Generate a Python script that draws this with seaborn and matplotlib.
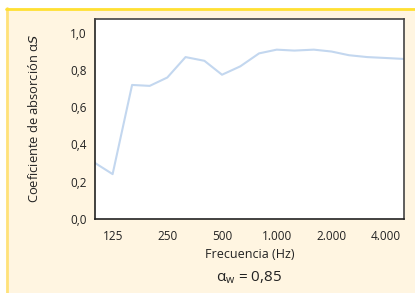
import matplotlib
matplotlib.use("Agg")
import matplotlib.pyplot as plt
import seaborn as sns
import pandas as pd
from matplotlib.patches import Rectangle
from matplotlib.lines import Line2D

# third-octave bands and absorption coefficient
freqs = [100, 125, 160, 200, 250, 315, 400, 500, 630, 800,
         1000, 1250, 1600, 2000, 2500, 3150, 4000, 5000]
alpha_s = [0.30, 0.24, 0.72, 0.715, 0.76, 0.87, 0.85, 0.775, 0.82, 0.89,
           0.91, 0.905, 0.91, 0.90, 0.88, 0.87, 0.865, 0.86]
xticks = [125, 250, 500, 1000, 2000, 4000]
xtick_labels = ["125", "250", "500", "1.000", "2.000", "4.000"]
yticks = [0.0, 0.2, 0.4, 0.6, 0.8, 1.0]
ytick_labels = ["0,0", "0,2", "0,4", "0,6", "0,8", "1,0"]

sns.set_theme(style="white")
plt.rcParams["font.family"] = ["Open Sans", "DejaVu Sans"]

W, H = 415, 293
fig = plt.figure(figsize=(W / 100, H / 100), dpi=100, facecolor="white")

# cream panel with yellow top/left border
fig.patches.append(Rectangle((6 / W, 0), 1, (H - 8) / H, transform=fig.transFigure,
                             facecolor="#fff5e1", edgecolor="none", zorder=-10))
fig.lines.append(Line2D([7 / W, 7 / W], [0, (H - 8) / H], transform=fig.transFigure,
                        color="#ffe27a", lw=2, zorder=-5))
fig.lines.append(Line2D([6 / W, 1], [(H - 9) / H, (H - 9) / H], transform=fig.transFigure,
                        color="#ffe033", lw=2, zorder=-5))

ax = fig.add_axes([95 / W, (H - 218.7) / H, (403.7 - 95) / W, (218.7 - 19) / H])
ax.set_zorder(5)
ax.set_facecolor("white")

df = pd.DataFrame({"freq": freqs, "alpha": alpha_s})
sns.lineplot(data=df, x="freq", y="alpha", ax=ax, color="#c3d7ef", lw=1.5)

ax.set_xscale("log", base=2)
ax.set_xlim(100, 5000)
ax.set_ylim(0, 1.075)
ax.set_xticks(xticks)
ax.set_xticklabels(xtick_labels)
ax.minorticks_off()
ax.set_yticks(yticks)
ax.set_yticklabels(ytick_labels)
ax.tick_params(axis="both", direction="inout", length=6, width=1, color="#222222",
               labelsize=8.5, labelcolor="#222222")
ax.tick_params(axis="x", pad=5)
ax.tick_params(axis="y", pad=3)

for side, sp in ax.spines.items():
    sp.set_visible(True)
    sp.set_color("#222222" if side in ("left", "bottom") else "#444444")
    sp.set_linewidth(1.2)

ax.set_xlabel("Frecuencia (Hz)", fontsize=9, color="#222222", labelpad=4)
ax.set_ylabel("Coeficiente de absorción α$\\mathit{S}$", fontsize=9.3, color="#222222",
              labelpad=21)

fig.text(249 / W, 1 - 278 / H, r"α$_\mathregular{w}$ = 0,85", ha="center", va="center",
         fontsize=11, color="#222222")

fig.savefig("out.png", dpi=100, facecolor=fig.get_facecolor())
